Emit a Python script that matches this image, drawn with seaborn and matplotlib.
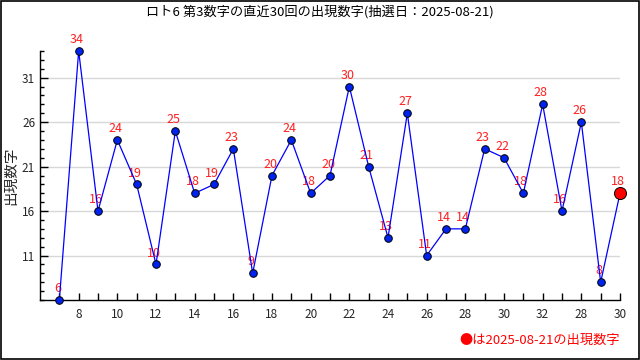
import matplotlib
matplotlib.use("Agg")
import matplotlib.pyplot as plt
import seaborn as sns
import pandas as pd
import numpy as np
from matplotlib.ticker import MultipleLocator, FixedLocator

sns.set_theme(style="white")
plt.rcParams['font.family'] = ['Noto Sans CJK JP', 'DejaVu Sans']

values = [6, 34, 16, 24, 19, 10, 25, 18, 19, 23, 9, 20, 24, 18, 20,
          30, 21, 13, 27, 11, 14, 14, 23, 22, 18, 28, 16, 26, 8, 18]
tick_labels = ["8", "10", "12", "14", "16", "18", "20", "22", "24", "26",
               "28", "30", "32", "28", "30"]
title = "ロト6 第3数字の直近30回の出現数字(抽選日：2025-08-21)"
ylabel = "出現数字"
note = "●は2025-08-21の出現数字"

df = pd.DataFrame({"idx": np.arange(len(values)), "val": values})

fig = plt.figure(figsize=(6.4, 3.6), dpi=100)
ax = fig.add_axes([40/640, 1-300/360, 580/640, 249/360])

ax.set_xlim(-1, len(values) - 1)
ax.set_ylim(6, 34)

ax.yaxis.set_major_locator(FixedLocator([11, 16, 21, 26, 31]))
ax.yaxis.set_minor_locator(MultipleLocator(1))
ax.grid(axis="y", which="major", color="#d8d8d8", linewidth=1)
ax.set_axisbelow(True)

for i, v in enumerate(values):
    ax.text(i - 0.1, v + 0.55, str(v), color="#ff2020", fontsize=9,
            ha="center", va="bottom", zorder=1)

sns.lineplot(data=df, x="idx", y="val", ax=ax, color="#0000ff",
             linewidth=0.9, zorder=2)
sns.scatterplot(data=df.iloc[:-1], x="idx", y="val", ax=ax, color="#0022ee",
                edgecolor="black", linewidth=0.7, s=30, zorder=3)
sns.scatterplot(data=df.iloc[-1:], x="idx", y="val", ax=ax, color="#ff0000",
                edgecolor="black", linewidth=0.7, s=75, zorder=4)
for c in ax.collections:
    c.set_clip_on(False)

ax.set_xticks(np.arange(len(values)), minor=True)
ax.set_xticks(np.arange(1, len(values), 2))
ax.set_xticklabels(tick_labels)

ax.tick_params(axis="x", which="both", direction="in", length=5, width=1,
               color="black", labelsize=8.5, pad=6, bottom=True)
ax.tick_params(axis="y", which="major", direction="in", length=6, width=1,
               color="black", labelsize=8.5, left=True)
ax.tick_params(axis="y", which="minor", direction="in", length=3, width=1,
               color="black", left=True)

ax.spines["top"].set_visible(False)
ax.spines["right"].set_visible(False)
for s in ["left", "bottom"]:
    ax.spines[s].set_color("black")
    ax.spines[s].set_linewidth(1)

ax.set_xlabel("")
ax.set_ylabel(ylabel, fontsize=10.5, labelpad=3)

fig.text(0.5, 1 - 12/360, title, ha="center", va="center", fontsize=9.5,
         color="black")
fig.text(620/640, 1 - 340/360, note, ha="right", va="center", fontsize=9.5,
         color="#ff0000")

fig.patches.append(plt.Rectangle((0.001, 0.002), 0.997, 0.996,
                                 transform=fig.transFigure, fill=False,
                                 edgecolor="black", linewidth=1.2))

fig.savefig("out.png", dpi=100)
